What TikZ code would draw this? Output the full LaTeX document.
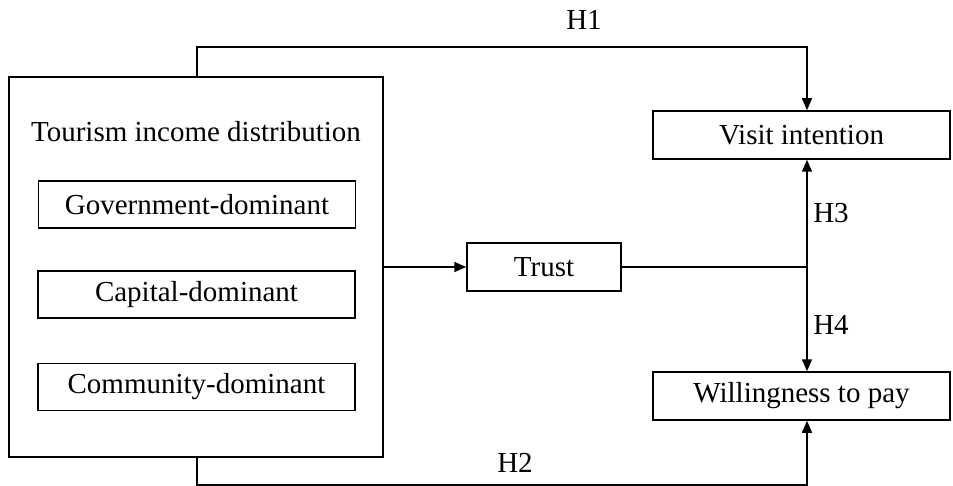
\documentclass[tikz,border=0pt]{standalone}
\usepackage{fontspec}
\setmainfont{Liberation Serif}
\usetikzlibrary{arrows.meta}
\begin{document}
\begin{tikzpicture}[x=1pt,y=-1pt,
  every node/.style={font=\fontsize{29}{32}\selectfont},
  box/.style={draw,line width=1.5pt,inner sep=0pt,minimum height=48pt},
  conn/.style={line width=1.5pt},
  arr/.style={conn,-{Triangle[length=12pt,width=10pt]}},
  lbl/.style={inner sep=0pt}]
\useasboundingbox (0,0) rectangle (953,486);
\node[box,minimum width=374pt,minimum height=380pt] (big) at (196,267) {};
\node[lbl] (title) at (196,132) {Tourism income distribution};
\node[box,minimum width=317pt,minimum height=47pt] (gov) at (197,204.5) {Government-dominant};
\node[box,minimum width=317pt,minimum height=47pt] (cap) at (196.5,294.5) {Capital-dominant};
\node[box,minimum width=317pt,minimum height=47pt] (com) at (196.5,387) {Community-dominant};
\node[box,minimum width=154pt] (trust) at (544,267) {Trust};
\node[box,minimum width=297pt] (visit) at (801.5,135) {Visit intention};
\node[box,minimum width=297pt] (will) at (801.5,396) {Willingness to pay};
\coordinate (top) at (197,47);
\coordinate (bot) at (197,485);
\coordinate (j) at (807,267);
\draw[arr] (big.north -| top) -- (top) -| (visit.north -| j);
\draw[arr] (big.east |- trust) -- (trust.west);
\draw[conn] (trust.east) -- (j);
\draw[arr] (j) -- (visit.south -| j);
\draw[arr] (j) -- (will.north -| j);
\draw[arr] (big.south -| bot) -- (bot) -| (will.south -| j);
\node[lbl] (h1) at (584,20) {H1};
\node[lbl] (h2) at (515,463) {H2};
\node[lbl] (h3) at (831,213) {H3};
\node[lbl] (h4) at (831,325) {H4};
\end{tikzpicture}
\end{document}
